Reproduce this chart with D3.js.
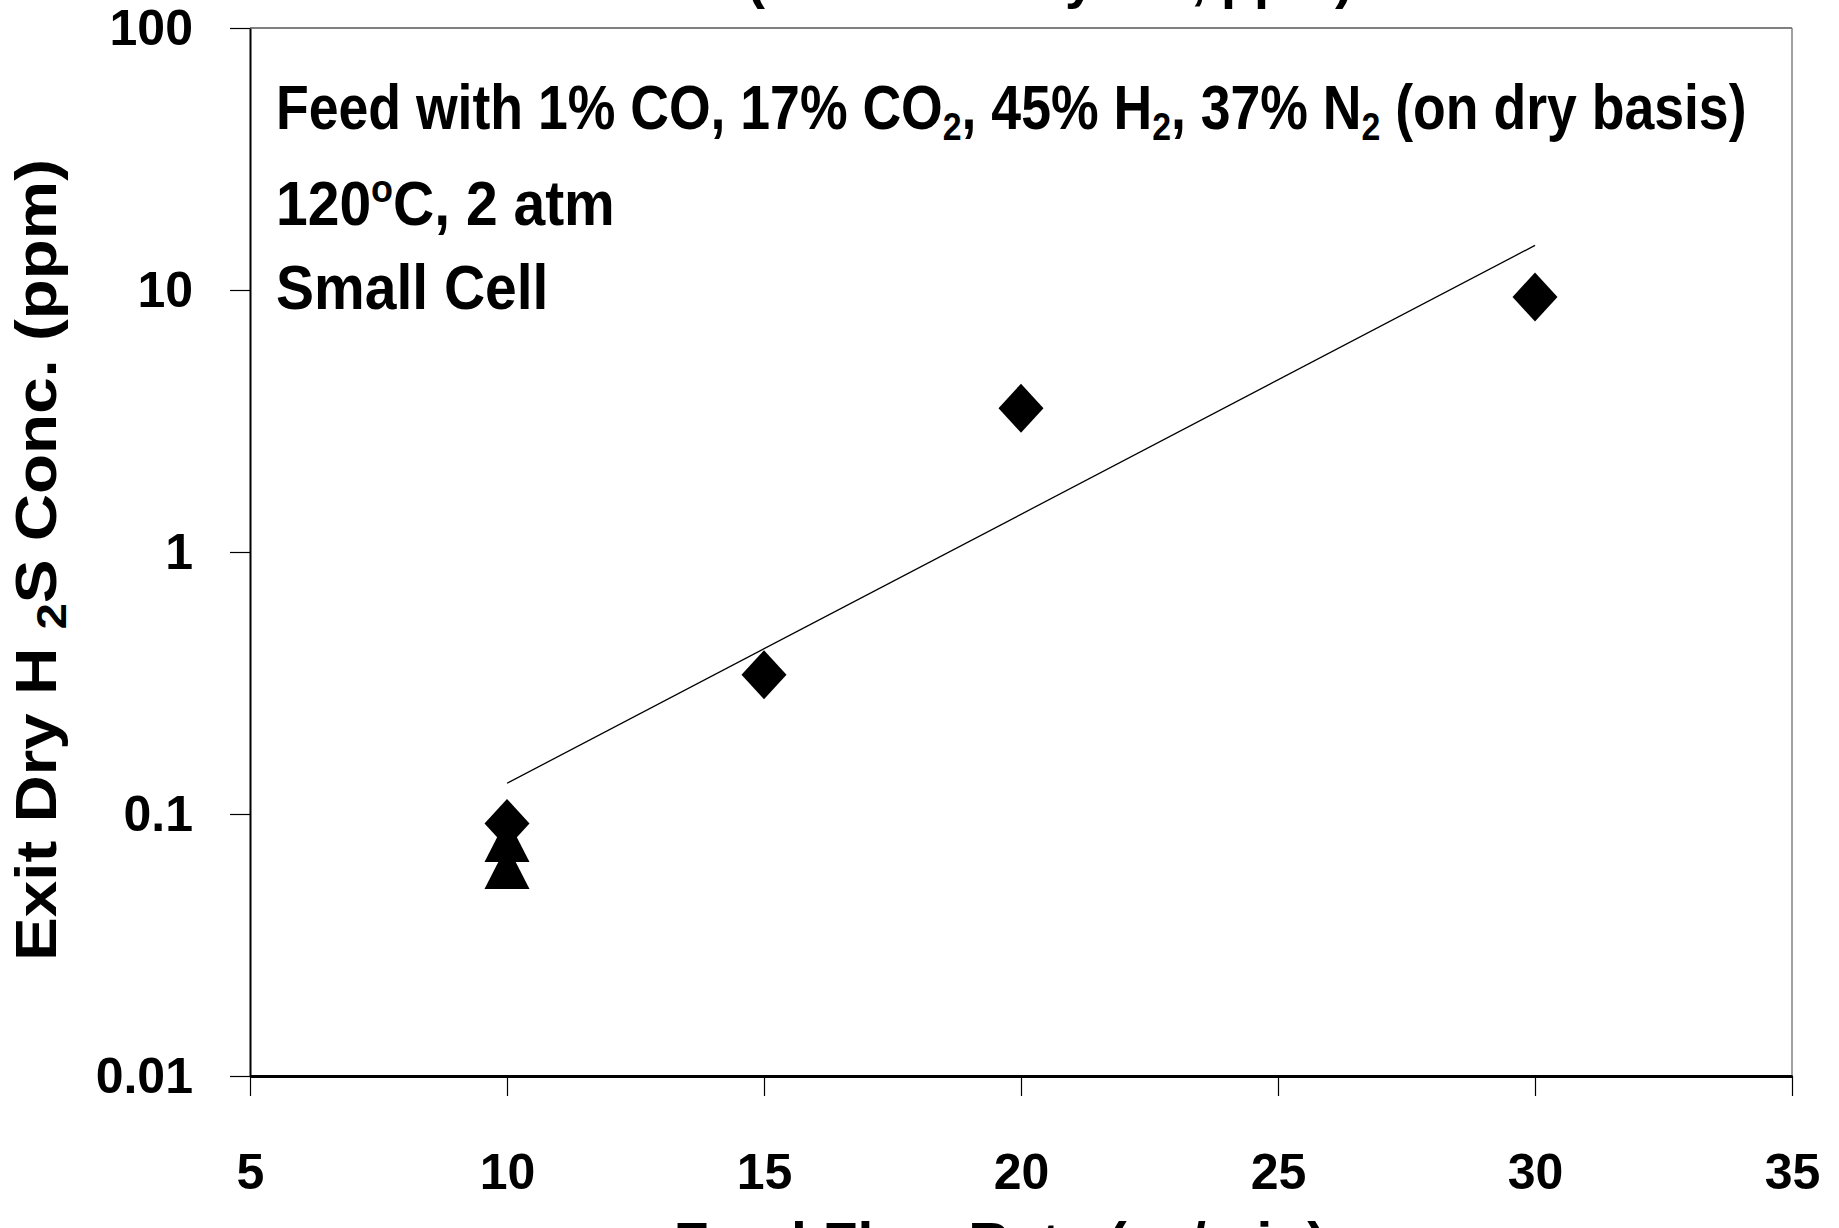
<!DOCTYPE html>
<html>
<head>
<meta charset="utf-8">
<script src="https://cdn.jsdelivr.net/npm/d3@7"></script>
<style>
  html, body { margin: 0; padding: 0; background: #fff; }
  svg { display: block; }
  text { font-family: "Liberation Sans", Arial, sans-serif; font-weight: bold; fill: #000; }
</style>
</head>
<body>
<svg id="chart" width="1839" height="1228"></svg>
<script>
// ---- data ----
const diamondFlow = [10, 15, 20, 30];          // Feed flow rate (cc/min)
const diamondH2S  = [0.092, 0.34, 3.54, 9.4];   // Exit dry H2S (ppm)
const triangleFlow = [10, 10];
const triangleH2S  = [0.0796, 0.0628];
const trendFlow = [10, 30];                     // exponential trendline end points
const trendH2S  = [0.131, 14.8];
const xTickValues = [5, 10, 15, 20, 25, 30, 35];
const yTickValues = [0.01, 0.1, 1, 10, 100];
const yTickLabels = ["0.01", "0.1", "1", "10", "100"];

const svg = d3.select("#chart");
const plotL = 250, plotR = 1792, plotT = 28, plotB = 1076;

const x = d3.scaleLinear().domain([5, 35]).range([plotL, plotR]);
const y = d3.scaleLog().domain([0.01, 100]).range([plotB, plotT]);

// plot frame (top and right, grey)
svg.append("line").attr("x1", plotL).attr("x2", plotR).attr("y1", plotT).attr("y2", plotT)
  .attr("stroke", "#808080").attr("stroke-width", 2);
svg.append("line").attr("x1", plotR).attr("x2", plotR).attr("y1", plotT).attr("y2", plotB)
  .attr("stroke", "#808080").attr("stroke-width", 1.5);

// title (mostly cut off at the top)
svg.append("text").attr("x", 1050).attr("y", -2).attr("text-anchor", "middle")
  .style("font-size", "54px").text("(Measured by GC, ppm)");

// x axis
const xAxis = d3.axisBottom(x).tickValues(xTickValues).tickSize(20).tickSizeOuter(0).tickPadding(57)
  .tickFormat(d3.format("d"));
const gx = svg.append("g").attr("transform", `translate(0,${plotB})`).call(xAxis);
gx.attr("font-family", null).attr("font-size", null);
gx.select(".domain").attr("stroke", "#000").attr("stroke-width", 3);
gx.selectAll(".tick line").attr("stroke", "#000").attr("stroke-width", 1.2);
gx.selectAll(".tick text").style("font-size", "50px");

// y axis
const yAxis = d3.axisLeft(y).tickValues(yTickValues).tickSize(20).tickSizeOuter(0).tickPadding(37)
  .tickFormat((d, i) => yTickLabels[i]);
const gy = svg.append("g").attr("transform", `translate(${plotL},0)`).call(yAxis);
gy.attr("font-family", null).attr("font-size", null);
gy.select(".domain").attr("stroke", "#000").attr("stroke-width", 2);
gy.selectAll(".tick line").attr("stroke", "#000").attr("stroke-width", 1.2);
gy.selectAll(".tick text").style("font-size", "50px");

// trendline
const line = d3.line().x(d => x(d[0])).y(d => y(d[1]));
svg.append("path").datum(trendFlow.map((f, i) => [f, trendH2S[i]]))
  .attr("d", line).attr("fill", "none").attr("stroke", "#000").attr("stroke-width", 1.3);

// triangles
const triW = 45, triH = 44;
svg.selectAll(".tri").data(triangleFlow.map((f, i) => [f, triangleH2S[i]])).enter()
  .append("path").attr("class", "tri")
  .attr("d", d => {
    const cx = x(d[0]), cy = y(d[1]);
    return `M${cx},${cy - triH / 2}L${cx + triW / 2},${cy + triH / 2}L${cx - triW / 2},${cy + triH / 2}Z`;
  })
  .attr("fill", "#000");

// diamonds
const dW = 45, dH = 49;
svg.selectAll(".dia").data(diamondFlow.map((f, i) => [f, diamondH2S[i]])).enter()
  .append("path").attr("class", "dia")
  .attr("d", d => {
    const cx = x(d[0]), cy = y(d[1]);
    return `M${cx},${cy - dH / 2}L${cx + dW / 2},${cy}L${cx},${cy + dH / 2}L${cx - dW / 2},${cy}Z`;
  })
  .attr("fill", "#000");

// annotation
const ann = svg.append("g").style("font-size", "57px");
const t1 = ann.append("text").attr("transform", "translate(276,129) scale(0.94,1.09)");
t1.append("tspan").text("Feed with 1% CO, 17% CO");
t1.append("tspan").attr("dy", 10).style("font-size", "36px").text("2");
t1.append("tspan").attr("dy", -10).text(", 45% H");
t1.append("tspan").attr("dy", 10).style("font-size", "36px").text("2");
t1.append("tspan").attr("dy", -10).text(", 37% N");
t1.append("tspan").attr("dy", 10).style("font-size", "36px").text("2");
t1.append("tspan").attr("dy", -10).text(" (on dry basis)");

const t2 = ann.append("text").attr("transform", "translate(276,225) scale(1,1.09)");
t2.append("tspan").text("120");
t2.append("tspan").attr("dy", -21).style("font-size", "36px").text("o");
t2.append("tspan").attr("dy", 21).text("C, 2 atm");

ann.append("text").attr("transform", "translate(276,309) scale(1,1.09)").text("Small Cell");

// y axis title
const yt = svg.append("text").attr("transform", "translate(56,560) rotate(-90) scale(1.13,1)")
  .attr("text-anchor", "middle").style("font-size", "58px");
yt.append("tspan").text("Exit Dry H  ");
yt.append("tspan").attr("dy", 10).style("font-size", "42px").text("2");
yt.append("tspan").attr("dy", -10).text("S Conc. (ppm)");

// x axis title (cut off at the bottom)
svg.append("text").attr("x", 1000).attr("y", 1263).attr("text-anchor", "middle")
  .style("font-size", "57px").text("Feed Flow Rate (cc/min)");
</script>
</body>
</html>
